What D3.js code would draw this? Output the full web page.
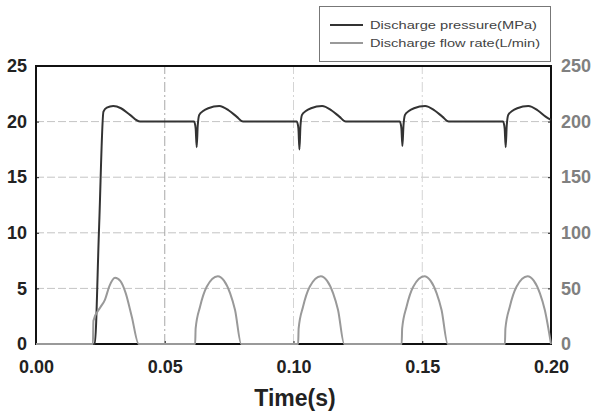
<!DOCTYPE html>
<html>
<head>
<meta charset="utf-8">
<script src="https://cdn.jsdelivr.net/npm/d3@7"></script>
<style>
  body { margin: 0; background: #fff; }
  svg { display: block; font-family: "Liberation Sans", Arial, sans-serif; }
</style>
</head>
<body>
<script>
const width = 599;
const height = 411;

// tick values
const xTicks = [0, 0.05, 0.10, 0.15, 0.20];
const yTicks = [0, 5, 10, 15, 20, 25];
const y2Ticks = [0, 50, 100, 150, 200, 250];

const seriesNames = ["Discharge pressure(MPa)", "Discharge flow rate(L/min)"];

// discharge pressure [time (s), MPa]
const pressure = [
  [0, 0], [0.0228, 0], [0.0245, 10.5], [0.0262, 20.9], [0.0275, 21.25], [0.0300, 21.4],
  [0.0330, 21.2], [0.0365, 20.6], [0.0404, 20.0],
  [0.0614, 20.0], [0.0620, 19.4], [0.0624, 17.7], [0.0628, 19.6], [0.0634, 20.6], [0.0649, 20.95],
  [0.0669, 21.2], [0.0712, 21.4], [0.0749, 21.0], [0.0779, 20.45], [0.0804, 20.0],
  [0.1013, 20.0], [0.1019, 19.4], [0.1023, 17.5], [0.1027, 19.6], [0.1033, 20.6], [0.1048, 20.95],
  [0.1068, 21.2], [0.1111, 21.4], [0.1148, 21.0], [0.1178, 20.45], [0.1203, 20.0],
  [0.1413, 20.0], [0.1419, 19.4], [0.1423, 17.8], [0.1427, 19.6], [0.1433, 20.6], [0.1448, 20.95],
  [0.1468, 21.2], [0.1511, 21.4], [0.1548, 21.0], [0.1578, 20.45], [0.1603, 20.0],
  [0.1814, 20.0], [0.1820, 19.4], [0.1824, 17.7], [0.1828, 19.6], [0.1834, 20.6], [0.1849, 20.95],
  [0.1869, 21.2], [0.1912, 21.4], [0.1949, 21.0], [0.1979, 20.45], [0.2000, 20.15]
];

// discharge flow rate [time (s), L/min]
const flow = [
  [0, 0], [0.0221, 0], [0.0223, 21], [0.0250, 33], [0.0268, 40], [0.0285, 52], [0.0307, 59.5],
  [0.0328, 56.5], [0.0348, 46], [0.0372, 24.6], [0.0399, 0],
  [0.0618, 0], [0.0620, 14], [0.0637, 33.5], [0.0663, 51.5], [0.0706, 61], [0.0730, 57],
  [0.0754, 45.6], [0.0773, 30.6], [0.0797, 0],
  [0.1018, 0], [0.1020, 14], [0.1037, 33.5], [0.1063, 51.5], [0.1106, 61], [0.1130, 57],
  [0.1154, 45.6], [0.1173, 30.6], [0.1197, 0],
  [0.1420, 0], [0.1422, 14], [0.1439, 33.5], [0.1465, 51.5], [0.1508, 61], [0.1532, 57],
  [0.1556, 45.6], [0.1575, 30.6], [0.1599, 0],
  [0.1821, 0], [0.1823, 14], [0.1840, 33.5], [0.1866, 51.5], [0.1909, 61], [0.1933, 57],
  [0.1957, 45.6], [0.1976, 30.6], [0.2000, 0]
];

const margin = {top: 66, right: 48, bottom: 67, left: 36};
const x0 = margin.left, x1 = width - margin.right;
const y0 = height - margin.bottom, y1 = margin.top;

const x = d3.scaleLinear().domain([0, 0.2]).range([x0, x1]);
const y = d3.scaleLinear().domain([0, 25]).range([y0, y1]);
const y2 = d3.scaleLinear().domain([0, 250]).range([y0, y1]);

const svg = d3.select("body").append("svg")
    .attr("width", width)
    .attr("height", height);

// grid
svg.append("g")
  .selectAll("line")
  .data(yTicks.filter(d => d > 0 && d < 25))
  .join("line")
    .attr("x1", x0).attr("x2", x1)
    .attr("y1", d => y(d)).attr("y2", d => y(d))
    .attr("stroke", "#c4c4c4")
    .attr("stroke-width", 1)
    .attr("stroke-dasharray", "8,3");

svg.append("g")
  .selectAll("line")
  .data(xTicks.filter(d => d > 0 && d < 0.2))
  .join("line")
    .attr("x1", d => x(d)).attr("x2", d => x(d))
    .attr("y1", y0).attr("y2", y1)
    .attr("stroke", (d, i) => i == 0 ? "#a8a8a8" : "#d4d4d4")
    .attr("stroke-width", 1)
    .attr("stroke-dasharray", "10,3,2,3");

// axes
const fmtX = d3.format(".2f");

const gx = svg.append("g")
    .attr("transform", `translate(0,${y0})`)
    .call(d3.axisBottom(x).tickValues(xTicks).tickFormat(fmtX).tickSizeInner(-3).tickSizeOuter(0).tickPadding(16));
const gy = svg.append("g")
    .attr("transform", `translate(${x0},0)`)
    .call(d3.axisLeft(y).tickValues(yTicks).tickSizeInner(-3).tickSizeOuter(0).tickPadding(9));
const gy2 = svg.append("g")
    .attr("transform", `translate(${x1},0)`)
    .call(d3.axisRight(y2).tickValues(y2Ticks).tickSizeInner(-3).tickSizeOuter(0).tickPadding(10));

[gx, gy, gy2].forEach(g => {
  g.select(".domain").remove();
  g.selectAll(".tick line").attr("stroke", "#222");
  g.selectAll("text")
    .attr("font-family", "'Liberation Sans', Arial, sans-serif")
    .attr("font-size", 18)
    .attr("font-weight", "bold")
    .attr("fill", "#222");
});
gy2.selectAll("text").attr("fill", "#808080");
gx.selectAll("text").attr("dy", null).attr("y", 29);

// lines
const line = d3.line()
    .x(d => x(d[0]))
    .curve(d3.curveMonotoneX);

// frame
svg.append("rect")
    .attr("x", x0).attr("y", y1)
    .attr("width", x1 - x0).attr("height", y0 - y1)
    .attr("fill", "none")
    .attr("stroke", "#111")
    .attr("stroke-width", 2);

svg.append("path")
    .datum(pressure)
    .attr("fill", "none")
    .attr("stroke", "#333")
    .attr("stroke-width", 2)
    .attr("d", line.y(d => y(d[1])));

svg.append("path")
    .datum(flow)
    .attr("fill", "none")
    .attr("stroke", "#999")
    .attr("stroke-width", 2)
    .attr("d", line.y(d => y2(d[1])));

// x title
svg.append("text")
    .attr("x", 295)
    .attr("y", 406)
    .attr("text-anchor", "middle")
    .attr("font-size", 23)
    .attr("font-weight", "bold")
    .attr("fill", "#222")
    .text("Time(s)");

// legend
const legend = svg.append("g");
legend.append("rect")
    .attr("x", 319.5).attr("y", 6.5)
    .attr("width", 231).attr("height", 55)
    .attr("fill", "#fff")
    .attr("stroke", "#777")
    .attr("stroke-width", 1);

const legColors = ["#333", "#999"];
const legWidths = [167, 170];
seriesNames.forEach((name, i) => {
  const ly = 25 + i * 18;
  legend.append("line")
      .attr("x1", 330).attr("x2", 363)
      .attr("y1", ly).attr("y2", ly)
      .attr("stroke", legColors[i])
      .attr("stroke-width", 2);
  legend.append("text")
      .attr("x", 370)
      .attr("y", ly + 4)
      .attr("font-size", 11)
      .attr("fill", "#444")
      .attr("textLength", legWidths[i])
      .attr("lengthAdjust", "spacingAndGlyphs")
      .text(name);
});
</script>
</body>
</html>
